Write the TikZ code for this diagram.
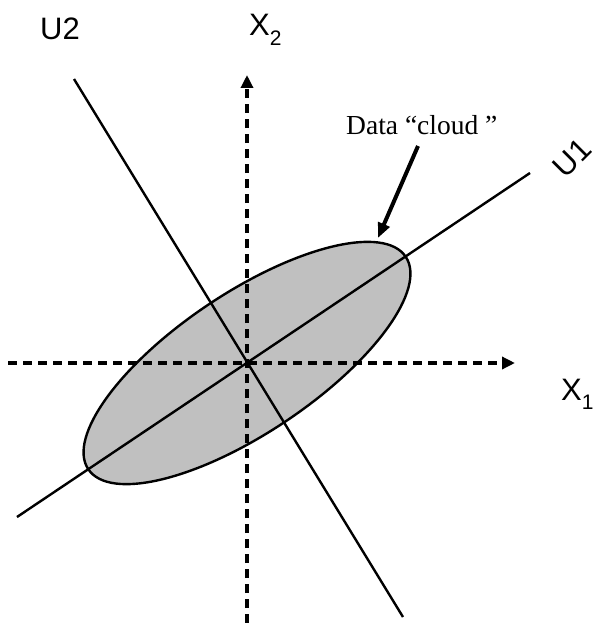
\documentclass[tikz,border=0pt]{standalone}
\usepackage{fontspec}
\setmainfont{Liberation Serif}
\newfontfamily\arialfont{Liberation Sans}
\usetikzlibrary{arrows.meta,shapes.geometric}
\tikzset{
  axisline/.style={line width=4pt, dash pattern=on 9pt off 6pt, -{Triangle[length=13pt,width=12pt]}},
  pcline/.style={line width=2.4pt},
  cloudshape/.style={draw, line width=2.4pt, fill=cloudgray, ellipse, inner sep=0pt, outer sep=0pt},
  biglabel/.style={inner sep=0pt, font=\arialfont\fontsize{31}{34}\selectfont},
  serlabel/.style={inner sep=0pt, font=\fontsize{27.5}{30}\selectfont},
  pointer/.style={line width=4pt, -{Triangle[length=15pt,width=12pt]}}
}
\definecolor{cloudgray}{RGB}{192,192,192}
\newcommand{\subs}[1]{\raisebox{-0.3em}{\fontsize{21}{22}\selectfont #1}}
\begin{document}
\begin{tikzpicture}[x=1pt,y=-1pt]
\useasboundingbox (0,0) rectangle (598,623);
\coordinate (O) at (247,363);
% data cloud
\node[cloudshape, minimum width=382pt, minimum height=140pt, rotate=33.8] (cloud) at (O) {};
% principal axes
\coordinate (u1a) at (17,517);
\coordinate (u1b) at (530,173);
\coordinate (u2a) at (74,79);
\coordinate (u2b) at (403,617);
\draw[pcline] (u1a) -- (u1b);
\draw[pcline] (u2a) -- (u2b);
% original axes
\coordinate (x1a) at (8,363);
\coordinate (x1b) at (515,363);
\coordinate (x2a) at (247,623);
\coordinate (x2b) at (247,75);
\draw[axisline] (x1a) -- (x1b);
\draw[axisline] (x2a) -- (x2b);
% labels
\node[biglabel, anchor=base west] (lu2) at (40,40) {U2};
\node[biglabel, anchor=base west] (lx2) at (249,36) {X\subs{2}};
\node[biglabel, anchor=base west] (lx1) at (561,400) {X\subs{1}};
\node[biglabel, rotate=45] (lu1) at (572,158) {U1};
\node[serlabel, anchor=base west] (ldata) at (346,135) {Data “cloud ”};
\coordinate (tip) at (378,238);
\draw[pointer] (418,146) -- (tip);
\end{tikzpicture}
\end{document}
